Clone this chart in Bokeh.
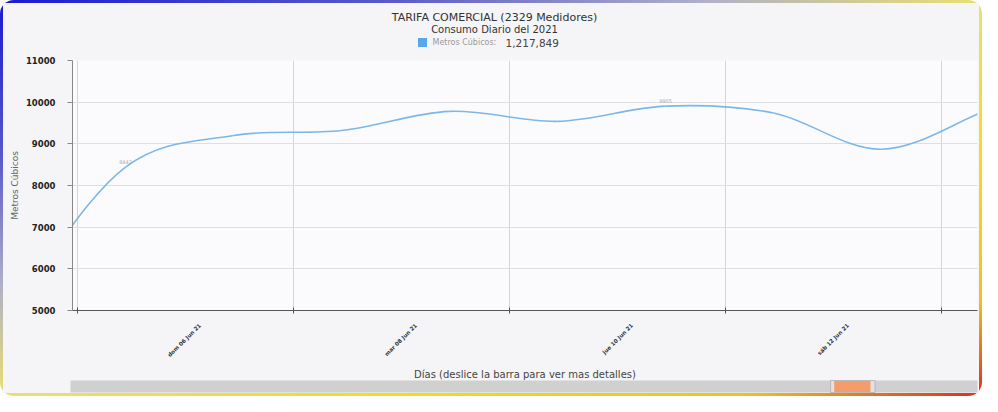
import numpy as np
from bokeh.plotting import figure
from bokeh.models import Range1d, FixedTicker, ColumnDataSource
from bokeh.layouts import column
from bokeh.embed import file_html
from bokeh.resources import INLINE
from bokeh.core.properties import value

# ---------------- data ----------------
title_main = "TARIFA COMERCIAL (2329 Medidores)"
title_sub = "Consumo Diario del 2021"
series_name = "Metros Cúbicos:"
series_total = "1,217,849"
y_axis_title = "Metros Cúbicos"
x_axis_title = "Días (deslice la barra para ver mas detalles)"

days = [4, 5, 6, 7, 8, 9, 10, 11, 12, 13]          # day of June 2021
consumo = [5300, 8442, 9200, 9320, 9780, 9540, 9905, 9740, 8870, 9830]
value_label_days = [5, 10]                          # points whose value is printed

date_tick_days = [6, 8, 10, 12]
date_tick_labels = ["dom 06 Jun 21", "mar 08 Jun 21", "jue 10 Jun 21", "sáb 12 Jun 21"]
grid_days = [4.556, 6.556, 8.556, 10.556, 12.556]
y_ticks = [5000, 6000, 7000, 8000, 9000, 10000, 11000]

view_start, view_end = 4.509, 12.889                # visible window (days)
scroll_thumb = (0.842, 0.882)                       # scrollbar thumb (fraction)
scroll_handles = (0.838, 0.887)

# ---------------- styling / layout ----------------
FONT = "DejaVu Sans"
LINE_COLOR = "#7db7e8"
LEGEND_COLOR = "#5aa6ea"
BG_OUT = "#f5f5f7"
BG_IN = "#fbfbfd"
W = 976
HH, HM, HS = 47, 316, 27          # header, main, scrollbar heights
BL, BR = 69, 2
label_shift = -0.31               # rotated label anchor correction (days)
GRADIENT = ("linear-gradient(to bottom right, #1a1ad0 0%, #5a5ac8 20%, #b0b0c8 36%, "
            "#e8e070 50%, #f2dc20 70%, #f0c020 88%, #e02a20 100%)")
fig_styles = {"background-color": BG_OUT}

# ---------------- header ----------------
h = figure(width=W, height=HH, output_backend="svg", toolbar_location=None,
           x_range=Range1d(0, W), y_range=Range1d(0, HH), x_axis_type=None,
           y_axis_type=None, min_border=0, background_fill_color=BG_OUT,
           border_fill_color=BG_OUT, outline_line_color=None, frame_align=False,
           styles=fig_styles)
h.grid.visible = False
hc = 491
h.text(x=[hc], y=[HH - 14], text=[title_main], text_font=value(FONT),
       text_font_size="11px", text_color="#333333", text_align="center",
       text_baseline="middle")
h.text(x=[hc], y=[HH - 26], text=[title_sub], text_font=value(FONT),
       text_font_size="10px", text_color="#333333", text_align="center",
       text_baseline="middle")
h.scatter(x=[hc - 72], y=[HH - 39], marker="square", size=9, fill_color=LEGEND_COLOR,
          line_color=None)
h.text(x=[hc - 62], y=[HH - 39], text=[series_name], text_font=value(FONT),
       text_font_size="8px", text_color="#9a9a9a", text_align="left",
       text_baseline="middle")
h.text(x=[hc + 11], y=[HH - 39], text=[series_total], text_font=value(FONT),
       text_font_size="10.5px", text_color="#444444", text_align="left",
       text_baseline="middle")

# ---------------- smooth curve (Catmull-Rom -> Bezier) ----------------
x = np.array(days, dtype=float)
y = np.array(consumo, dtype=float)
n = len(x)
m = np.zeros(n)
for i in range(n):
    if i == 0:
        m[i] = (y[1] - y[0]) / (x[1] - x[0])
    elif i == n - 1:
        m[i] = (y[-1] - y[-2]) / (x[-1] - x[-2])
    else:
        m[i] = (y[i + 1] - y[i - 1]) / (x[i + 1] - x[i - 1])
dx = np.diff(x)
seg = ColumnDataSource(dict(
    x0=x[:-1], y0=y[:-1], x1=x[1:], y1=y[1:],
    cx0=x[:-1] + dx / 3, cy0=y[:-1] + m[:-1] * dx / 3,
    cx1=x[1:] - dx / 3, cy1=y[1:] - m[1:] * dx / 3,
))

p = figure(width=W, height=HM, output_backend="svg", toolbar_location=None,
           x_range=Range1d(view_start, view_end), y_range=Range1d(5000, 11000),
           min_border_left=BL, min_border_right=BR, min_border_top=10,
           min_border_bottom=56, background_fill_color=BG_IN,
           border_fill_color=BG_OUT, outline_line_color=None, styles=fig_styles)

p.bezier(x0="x0", y0="y0", x1="x1", y1="y1", cx0="cx0", cy0="cy0",
         cx1="cx1", cy1="cy1", source=seg, line_color=LINE_COLOR, line_width=1.6)

lab_y = [consumo[days.index(d)] for d in value_label_days]
p.text(x=value_label_days, y=lab_y, text=[str(v) for v in lab_y],
       text_font=value(FONT), text_font_size="5px",
       text_color="#aaaaaa", text_align="center", text_baseline="bottom", y_offset=-3)

# axes
p.yaxis.ticker = FixedTicker(ticks=y_ticks)
p.yaxis.major_label_text_font = FONT
p.yaxis.major_label_text_font_size = "8.5px"
p.yaxis.major_label_text_font_style = "bold"
p.yaxis.major_label_text_color = "#222222"
p.yaxis.major_label_standoff = 12
p.yaxis.axis_line_color = "#888888"
p.yaxis.major_tick_line_color = "#888888"
p.yaxis.major_tick_out = 5
p.yaxis.major_tick_in = 0
p.yaxis.minor_tick_line_color = None
p.yaxis.axis_label = y_axis_title
p.yaxis.axis_label_text_font = FONT
p.yaxis.axis_label_text_font_size = "9px"
p.yaxis.axis_label_text_font_style = "normal"
p.yaxis.axis_label_text_color = "#666666"
p.yaxis.axis_label_standoff = 3

lab_pos = [d + label_shift for d in date_tick_days]
p.xaxis.ticker = FixedTicker(ticks=lab_pos, minor_ticks=grid_days)
p.xaxis.major_label_overrides = {pos: t for pos, t in zip(lab_pos, date_tick_labels)}
p.xaxis.major_label_orientation = np.pi / 4
p.xaxis.major_label_text_font = FONT
p.xaxis.major_label_text_font_size = "5.5px"
p.xaxis.major_label_text_font_style = "bold"
p.xaxis.major_label_text_color = "#333333"
p.xaxis.major_label_standoff = 11
p.xaxis.major_tick_in = 0
p.xaxis.major_tick_out = 0
p.xaxis.minor_tick_in = 3
p.xaxis.minor_tick_out = 3
p.xaxis.minor_tick_line_color = "#555555"
p.xaxis.axis_line_color = "#555555"

p.xgrid.ticker = FixedTicker(ticks=grid_days)
p.xgrid.grid_line_color = "#d4d4da"
p.ygrid.grid_line_color = "#dedee3"

# ---------------- scrollbar + x title ----------------
s = figure(width=W, height=HS, output_backend="svg", toolbar_location=None,
           x_range=Range1d(0, W), y_range=Range1d(0, HS), x_axis_type=None,
           y_axis_type=None, min_border=0, background_fill_color=BG_OUT,
           border_fill_color=BG_OUT, outline_line_color=None, frame_align=False,
           styles=fig_styles)
s.grid.visible = False
fc = (BL + W - BR) / 2
bar_l, bar_r = BL - 2, W - BR
bar_b, bar_t = HS - 26, HS - 14
s.text(x=[fc], y=[HS - 8], text=[x_axis_title], text_font=value(FONT),
       text_font_size="10px", text_color="#444444", text_align="center",
       text_baseline="middle")
s.quad(left=[bar_l], right=[bar_r], bottom=[bar_b], top=[bar_t], fill_color="#d0d0d0",
       line_color=None)
bw = bar_r - bar_l
s.quad(left=[bar_l + bw * scroll_handles[0]], right=[bar_l + bw * scroll_handles[1]],
       bottom=[bar_b], top=[bar_t], fill_color="#e2e2e2", line_color="#b0b0b0",
       line_width=0.8)
s.quad(left=[bar_l + bw * scroll_thumb[0]], right=[bar_l + bw * scroll_thumb[1]],
       bottom=[bar_b + 0.5], top=[bar_t - 0.5], fill_color="#f59c6c", line_color=None)

layout = column(h, p, s, spacing=0, styles={
    "border": "3px solid transparent", "border-radius": "14px",
    "background": f"linear-gradient({BG_OUT}, {BG_OUT}) padding-box, {GRADIENT} border-box"})

open("out.html", "w").write(file_html(layout, INLINE))
